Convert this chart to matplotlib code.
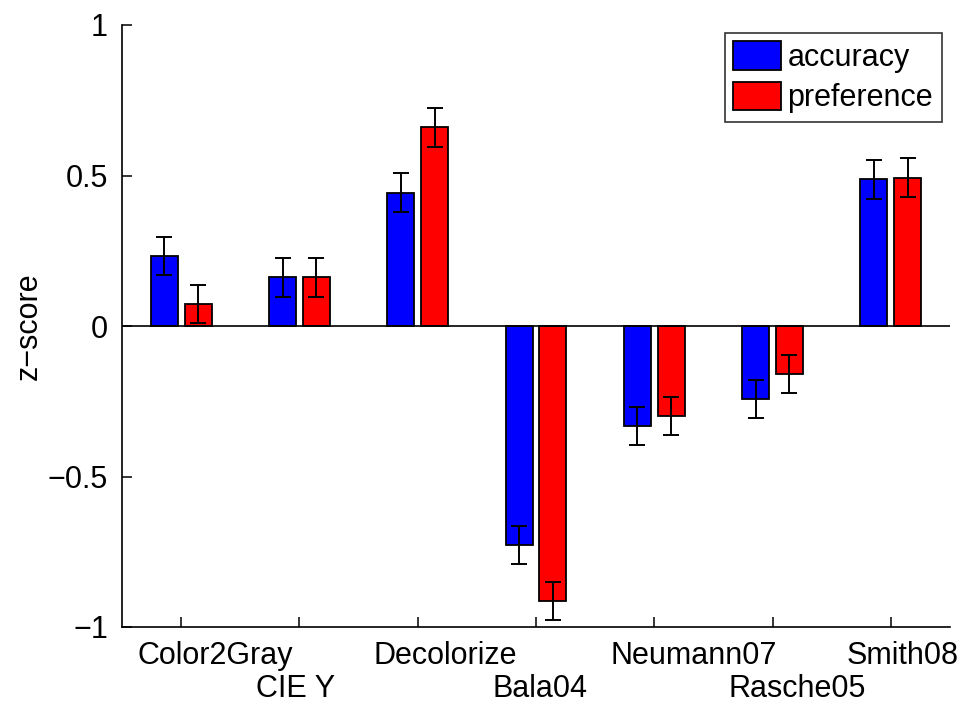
import numpy as np
import matplotlib
matplotlib.use('Agg')
import matplotlib.pyplot as plt
import matplotlib.transforms as mtransforms

plt.rcParams['font.family'] = ['Liberation Sans', 'DejaVu Sans']

# データ
methods = ['Color2Gray', 'CIE Y', 'Decolorize', 'Bala04', 'Neumann07', 'Rasche05', 'Smith08']
accuracy = [0.233, 0.162, 0.443, -0.728, -0.332, -0.243, 0.487]
preference = [0.073, 0.162, 0.660, -0.913, -0.299, -0.158, 0.493]
acc_err = [0.064, 0.064, 0.064, 0.063, 0.063, 0.063, 0.064]
pref_err = [0.064, 0.064, 0.064, 0.063, 0.063, 0.063, 0.064]

fs = 22
x = np.arange(1, len(methods) + 1)
off = 0.1429
w = 0.2286

fig = plt.figure(figsize=(9.71, 7.02), dpi=100)
ax = fig.add_axes([122/971, 1 - 627/702, 828/971, 602/702])

ax.bar(x - off, accuracy, w, color='#0000ff', edgecolor='black', linewidth=1.3,
       label='accuracy', zorder=2)
ax.bar(x + off, preference, w, color='#ff0000', edgecolor='black', linewidth=1.3,
       label='preference', zorder=2)
ax.errorbar(x - off, accuracy, yerr=acc_err, fmt='none', ecolor='black',
            elinewidth=1.4, capsize=6, capthick=1.4, zorder=3)
ax.errorbar(x + off, preference, yerr=pref_err, fmt='none', ecolor='black',
            elinewidth=1.4, capsize=6, capthick=1.4, zorder=3)
ax.axhline(0, color='black', linewidth=1.2, zorder=4)

ax.set_xlim(0.5, 7.5)
ax.set_ylim(-1, 1)
ax.set_yticks([-1, -0.5, 0, 0.5, 1])
ax.set_yticklabels(['\u22121', '\u22120.5', '0', '0.5', '1'], fontsize=fs)
ax.set_xticks(x)
ax.set_xticklabels([])
ax.tick_params(direction='in', length=7, width=1.1, pad=10)

for s in ['top', 'right']:
    ax.spines[s].set_visible(False)
for s in ['left', 'bottom']:
    ax.spines[s].set_linewidth(1.2)

# ラベルを2段にずらす
trans = mtransforms.blended_transform_factory(ax.transData, ax.transAxes)
for i, m in enumerate(methods):
    yy = -0.0615 if i % 2 == 0 else -0.116
    ax.text(x[i] - 0.37, yy, m, transform=trans, ha='left', va='baseline',
            fontsize=fs, clip_on=False)

ax.set_ylabel('z\u2212score', fontsize=fs)
ax.yaxis.set_label_coords(-0.095, 0.5)

leg = ax.legend(loc='upper right', bbox_to_anchor=(0.990, 0.987), fontsize=fs,
                frameon=True, fancybox=False, handlelength=1.54, handleheight=1.05,
                handletextpad=0.23, borderpad=0.28, labelspacing=0.28,
                borderaxespad=0)
leg.get_frame().set_edgecolor('black')
leg.get_frame().set_linewidth(1.2)

fig.savefig('out.png', dpi=100)
